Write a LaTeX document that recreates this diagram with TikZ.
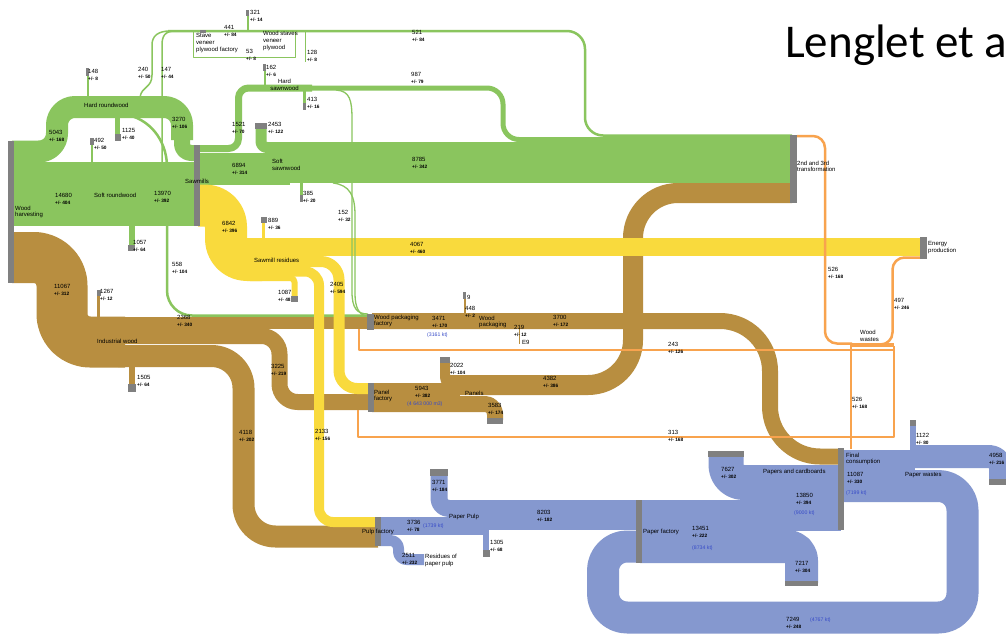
\documentclass[tikz,border=0pt]{standalone}
\usepackage{fontspec}
\setmainfont{Liberation Sans}
\newfontfamily\calib{Carlito}
\definecolor{cgr}{RGB}{138,197,94}
\definecolor{cye}{RGB}{249,218,61}
\definecolor{cbr}{RGB}{184,142,64}
\definecolor{cbl}{RGB}{133,152,207}
\definecolor{cor}{RGB}{248,163,78}
\definecolor{cgy}{RGB}{128,128,128}
\definecolor{ckt}{RGB}{55,75,200}
\newcommand\efont{\fontsize{4.8}{6.8}\selectfont\bfseries}
\tikzset{
  band/.style={line cap=butt, line join=round},
  lab/.style={font=\fontsize{6}{6.6}\selectfont, inner sep=0pt, anchor=west, align=left},
  vlab/.style={font=\fontsize{6}{6.8}\selectfont, inner sep=0pt, anchor=north west, align=left},
  kt/.style={font=\fontsize{5.2}{6}\selectfont, text=ckt, inner sep=0pt, anchor=west},
}
\newcommand\fv[5]{\node[vlab] (#1) at (#2,{#3-2.8}) {#4\\{\efont +/-~#5}};}
\begin{document}
\begin{tikzpicture}[x=1pt,y=-1pt]
\useasboundingbox (0,0) rectangle (1006,635);
\fill[white] (0,0) rectangle (1006,635);

% ---------------- BROWN ----------------
\begin{scope}[cbr, band]
\draw[line width=51, rounded corners=28] (12,257.5) -- (62,257.5) -- (62,342) -- (125,342);
\fill (100,316.5) rectangle (369,329);
\draw[line width=16, rounded corners=18] (118,336) -- (279.5,336) -- (279.5,402) -- (371,402);
\draw[line width=22, rounded corners=32] (118,356) -- (243.5,356) -- (243.5,536.5) -- (378,536.5);
\draw[line width=3] (98.5,318) -- (98.5,294);
\draw[line width=6] (132,366) -- (132,386);
\fill (372,383) rectangle (460,412);
\draw[line width=16, rounded corners=10] (372,404) -- (495,404) -- (495,420);
\draw[line width=10, rounded corners=8] (445,361) -- (445,385) -- (470,385);
\draw[line width=20, rounded corners=45] (445,385) -- (633,385) -- (633,193) -- (792,193);
\draw[line width=16, rounded corners=50] (372,321) -- (770,321) -- (770,456.5) -- (841,456.5);
\draw[line width=2] (464.5,298) -- (464.5,314);
\draw[line width=1.5] (519.5,328) -- (519.5,344);
\end{scope}

% ---------------- GREEN ----------------
\begin{scope}[cgr, band]
\draw[line width=2.5] (123,114) .. controls (150,118) and (166,140) .. (167,165);
\draw[line width=2.5, rounded corners=25] (167,220) -- (167,315.5) -- (368,315.5);
\draw[line width=1.5] (140,97) .. controls (142,86) and (152,88) .. (152,75) -- (152,45) .. controls (152,36) and (158,31) .. (170,31);
\draw[line width=1.5] (162,165) -- (162,45) .. controls (162,36) and (165,31) .. (175,31);
\draw[line width=22, rounded corners=18] (12,151.5) -- (57,151.5) -- (57,107) -- (182,107) -- (182,140);
\draw[line width=16, rounded corners=9] (182,128) -- (182,153) -- (196,153);
\fill (12,162) rectangle (196,226);
\draw[line width=5] (117.5,116) -- (117.5,135);
\draw[line width=2.5] (91.8,144) -- (91.8,163);
\draw[line width=2] (87.5,75) -- (87.5,97);
\draw[line width=6] (131.5,225) -- (131.5,246);
\fill (198,153) rectangle (290,185);
\draw[line width=11, rounded corners=6] (261,127) -- (261,147.5) -- (292,147.5);
\fill (285,142) rectangle (792,183);
\draw[line width=7, rounded corners=10] (198,148.5) -- (238.5,148.5) -- (238.5,88) -- (312,88);
\draw[line width=5, rounded corners=16] (300,88) -- (503,88) -- (503,139.5) -- (792,139.5);
\draw[line width=2.5, rounded corners=18] (168,31) -- (585,31) -- (585,135.5) -- (792,135.5);
\draw[line width=1] (193,32) -- (193,57) -- (295,57) -- (295,32);
\draw[line width=2] (248,16) -- (248,31);
\draw[line width=1] (305,32) -- (305,62);
\draw[line width=2] (264.5,70) -- (264.5,87);
\draw[line width=2.5] (304.5,90) -- (304.5,104);
\draw[line width=2.5] (301.5,183) -- (301.5,196);
\end{scope}

% ---------------- YELLOW ----------------
\begin{scope}[cye, band]
\draw[line width=42, rounded corners=21] (198,205.5) -- (226,205.5) -- (226,260) -- (262,260);
\draw[line width=18] (240,247) -- (922,247);
\draw[line width=3] (263.5,222) -- (263.5,240);
\draw[line width=6, rounded corners=4] (250,278) -- (294.5,278) -- (294.5,297);
\draw[line width=10, rounded corners=14] (250,271.5) -- (319,271.5) -- (319,522) -- (378,522);
\draw[line width=11, rounded corners=18] (250,261.5) -- (339,261.5) -- (339,388.5) -- (371,388.5);
\end{scope}

% thin green lines to wood packaging factory
\begin{scope}[cgr, band]
\draw[line width=1.3] (336,90) .. controls (350,91) and (352,100) .. (352,120) -- (352,292) .. controls (352,308) and (357,314) .. (368,314);
\draw[line width=1.3] (333,183) .. controls (350,185) and (355,196) .. (355,215) -- (355,294) .. controls (355,307) and (359,316) .. (368,316);
\end{scope}

% ---------------- BLUE ----------------
\begin{scope}[cbl, band]
\fill (379,517) rectangle (489,535);
\draw[line width=17, rounded corners=10] (439,474) -- (439,508.5) -- (500,508.5);
\fill (447,500) rectangle (638,530);
\draw[line width=6] (486,529) -- (486,552);
\draw[line width=11, rounded corners=8] (379,540.5) -- (398.5,540.5) -- (398.5,559.5) -- (424,559.5);
\fill (640,500) rectangle (841,531);
\draw[line width=33, rounded corners=14] (640,546.5) -- (801.5,546.5) -- (801.5,583);
\draw[line width=35, rounded corners=17.5] (726,455) -- (726,482.5) -- (841,482.5);
\fill (842,450) rectangle (915,502);
\draw[line width=6] (913,424) -- (913,451);
\draw[line width=23, rounded corners=11] (911,456.5) -- (1000.5,456.5) -- (1000.5,481);
\draw[line width=32, rounded corners=24] (842,486) -- (962.5,486) -- (962.5,617.5) -- (603,617.5) -- (603,546.5) -- (640,546.5);
\end{scope}

% ---------------- ORANGE ----------------
\begin{scope}[cor, band]
\draw[line width=1.5] (359,329) -- (359,350) -- (894,350) -- (894,346);
\draw[line width=1.5] (358,410) -- (358,437) -- (894,437) -- (894,346);
\draw[line width=2.5, rounded corners=12] (797,136) -- (825,136) -- (825,343.5) -- (852,343.5);
\draw[line width=4] (850,344.5) -- (894,344.5);
\draw[line width=2.5, rounded corners=12] (870,344.5) -- (892.5,344.5) -- (892.5,257.5) -- (922,257.5);
\draw[line width=2.5] (851,344) -- (851,449);
\end{scope}

% ---------------- GREY NODES ----------------
\begin{scope}[cgy]
\fill (8,141) rectangle (14,283);
\fill (194,145) rectangle (200,226);
\fill (86,68) rectangle (89,76);
\fill (114.5,134) rectangle (120.5,141);
\fill (90,138) rectangle (93.5,145);
\fill (128,245) rectangle (135,251);
\fill (96.5,290) rectangle (100.5,296);
\fill (128,384) rectangle (136,392);
\fill (246,10) rectangle (249,16);
\fill (200,30) rectangle (206,32.5);
\fill (263,64) rectangle (265.5,71);
\fill (303,103) rectangle (306,110);
\fill (255,123) rectangle (267,128.5);
\fill (300,195) rectangle (303,202);
\fill (261,217) rectangle (267,223);
\fill (291,296) rectangle (298,302);
\fill (367,314) rectangle (374,330);
\fill (463,292) rectangle (466,299);
\fill (368,383) rectangle (374,412);
\fill (440,357) rectangle (450,363);
\fill (487,418) rectangle (503,424);
\fill (375,517) rectangle (381,546);
\fill (430,469) rectangle (448,476);
\fill (483,550) rectangle (490,557);
\fill (636,500) rectangle (642,563);
\fill (708,451) rectangle (744,457);
\fill (785,581) rectangle (818,586);
\fill (838,448) rectangle (844,530);
\fill (910,420) rectangle (916,426);
\fill (989,479) rectangle (1012,485);
\fill (790,135) rectangle (797,203);
\fill (920,237) rectangle (927,259);
\end{scope}

% ---------------- LABELS ----------------
\node[lab] (lwh) at (15,212) {Wood\\harvesting};
\node[lab] (lhr) at (84,105) {Hard roundwood};
\node[lab] (lsr) at (94,195) {Soft roundwood};
\node[lab] (lsm) at (185,181) {Sawmills};
\node[lab] (liw) at (97,341) {Industrial wood};
\node[lab] (lss) at (272,165) {Soft\\sawnwood};
\node[lab, align=center, anchor=center] (lhs) at (284.5,85) {Hard\\sawnwood};
\node[lab] (lsv) at (196,43) {Stave\\veneer\\plywood factory};
\node[lab] (lws) at (263,41) {Wood staves\\veneer\\plywood};
\node[lab] (lres) at (254,260) {Sawmill residues};
\node[lab] (lwpf) at (374,321) {Wood packaging\\factory};
\node[lab] (lwp) at (479,322) {Wood\\packaging};
\node[lab] (le9) at (522,342) {E9};
\node[lab] (lnine) at (467,297) {9};
\node[lab] (lpf) at (374,396) {Panel\\factory};
\node[lab] (lpan) at (465,393) {Panels};
\node[lab] (lpulp) at (362,532) {Pulp factory};
\node[lab] (lpp) at (449,517) {Paper Pulp};
\node[lab] (lrpp) at (425,560.5) {Residues of\\paper pulp};
\node[lab] (lpaf) at (643,532) {Paper factory};
\node[lab] (lpc) at (763,472) {Papers and cardboards};
\node[lab] (lfc) at (846,459) {Final\\consumption};
\node[lab] (lpw) at (905,475) {Paper wastes};
\node[lab] (ltr) at (797,166.5) {2nd and 3rd\\transformation};
\node[lab] (lep) at (928,247.5) {Energy\\production};
\node[lab] (lww) at (860,336) {Wood\\wastes};

\node[kt] (k1) at (427,335) {(3161 kt)};
\node[kt] (k2) at (407,404) {(4 643 000 m3)};
\node[kt] (k3) at (423,526) {(1739 kt)};
\node[kt] (k4) at (692,548) {(8734 kt)};
\node[kt] (k5) at (794,513) {(9000 kt)};
\node[kt] (k6) at (846,493) {(7199 kt)};
\node[kt] (k7) at (810,620) {(4767 kt)};

\fv{v5043}{49}{133}{5043}{168}
\fv{v3270}{172}{120}{3270}{106}
\fv{v1125}{122}{131}{1125}{40}
\fv{v492}{94}{141}{492}{50}
\fv{v148}{88}{72}{148}{8}
\fv{v240}{138}{70}{240}{50}
\fv{v147}{161}{70}{147}{44}
\fv{v14680}{55}{196}{14680}{404}
\fv{v13970}{154}{194}{13970}{392}
\fv{v1057}{133}{243}{1057}{64}
\fv{v558}{172}{265}{558}{104}
\fv{v11067}{54}{287}{11067}{312}
\fv{v1267}{100}{292}{1267}{12}
\fv{v2368}{177}{318}{2368}{340}
\fv{v1505}{137}{378}{1505}{64}
\fv{v3225}{271}{367}{3225}{219}
\fv{v4118}{239}{433}{4118}{202}
\fv{v2133}{315}{432}{2133}{156}
\fv{v1521}{232}{125}{1521}{70}
\fv{v6894}{232}{166}{6894}{314}
\fv{v2453}{268}{125}{2453}{122}
\fv{v8785}{412}{160}{8785}{342}
\fv{v385}{303}{194}{385}{20}
\fv{v152}{338}{213}{152}{32}
\fv{v889}{268}{221}{889}{36}
\fv{v4067}{410}{245}{4067}{460}
\fv{v6842}{222}{224}{6842}{396}
\fv{v1087}{278}{293}{1087}{48}
\fv{v2405}{330}{285}{2405}{594}
\fv{v321}{250}{13}{321}{14}
\fv{v441}{224}{28}{441}{84}
\fv{v53}{246}{52}{53}{8}
\fv{v128}{307}{53}{128}{8}
\fv{v521}{412}{33}{521}{84}
\fv{v162}{266}{68}{162}{6}
\fv{v987}{411}{75}{987}{79}
\fv{v413}{307}{100}{413}{16}
\fv{v3471}{432}{319}{3471}{170}
\fv{v448}{465}{309}{448}{2}
\fv{v219}{514}{328}{219}{12}
\fv{v3700}{553}{318}{3700}{172}
\fv{v2022}{450}{366}{2022}{104}
\fv{v4382}{543}{379}{4382}{386}
\fv{v5943}{415}{389}{5943}{382}
\fv{v3583}{488}{406}{3583}{174}
\fv{v243}{668}{345}{243}{126}
\fv{v313}{668}{433}{313}{168}
\fv{v526a}{828}{270}{526}{168}
\fv{v497}{894}{301}{497}{246}
\fv{v526b}{852}{400}{526}{168}
\fv{v3736}{407}{523}{3736}{78}
\fv{v3771}{432}{483}{3771}{184}
\fv{v8203}{537}{513}{8203}{182}
\fv{v1305}{490}{543}{1305}{68}
\fv{v2511}{402}{556}{2511}{232}
\fv{v13451}{692}{529}{13451}{222}
\fv{v7627}{721}{470}{7627}{302}
\fv{v13850}{796}{496}{13850}{394}
\fv{v11087}{847}{475}{11087}{330}
\fv{v1122}{916}{436}{1122}{80}
\fv{v4958}{989}{456}{4958}{216}
\fv{v7217}{795}{564}{7217}{304}
\fv{v7249}{786}{620}{7249}{248}

\node[font=\calib\fontsize{47}{50}\selectfont, inner sep=0pt, anchor=base west] (title) at (785,57) {Lenglet et a};
\end{tikzpicture}
\end{document}
